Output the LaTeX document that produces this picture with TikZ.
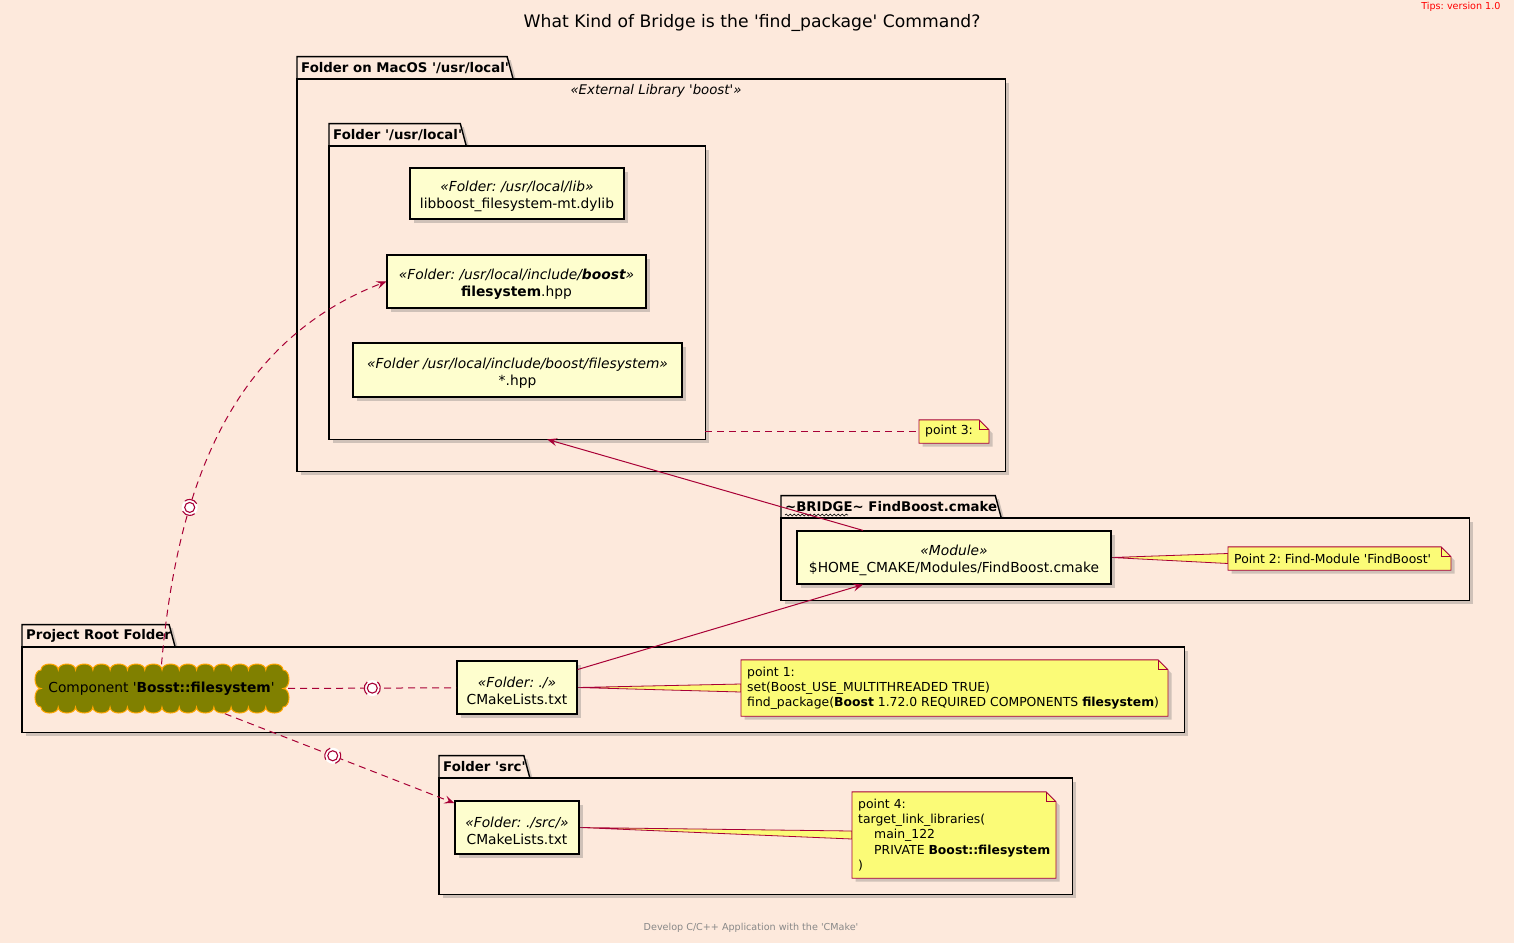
\documentclass[tikz,border=0pt]{standalone}
\usepackage{fontspec}
\setmainfont{DejaVu Sans}
\usetikzlibrary{arrows.meta,shadows,decorations.pathmorphing}
\definecolor{bgc}{HTML}{FDE9DC}
\definecolor{boxc}{HTML}{FEFECE}
\definecolor{notec}{HTML}{FBFB77}
\definecolor{redc}{HTML}{A80036}
\definecolor{olivec}{HTML}{808000}
\definecolor{orangec}{HTML}{FFA500}
\definecolor{footc}{HTML}{888888}
\pgfdeclarelayer{pkglayer}
\pgfdeclarelayer{notelayer}
\pgfsetlayers{pkglayer,notelayer,main}
\frenchspacing
\newcommand\q{\textquotesingle}
\newcommand\vs{\rule{0pt}{16.5pt}}
\newcommand\lolli[3]{%
  \node[circle, fill=white, inner sep=0pt, minimum size=16pt] (#1) at (#2) {};
  \draw[redc, line width=1.1pt] (#1.center) circle[radius=5pt];
  \draw[redc, line width=1.1pt] ([shift={(#3-50:8pt)}]#1.center) arc[start angle=#3-50, end angle=#3+50, radius=8pt];
  \draw[redc, line width=1.1pt] ([shift={(#3+130:8pt)}]#1.center) arc[start angle=#3+130, end angle=#3+230, radius=8pt];
}
\newcommand\notedraw[2]{%
  \path[notesh] (#1.south west) -- (#1.north west) -- ([xshift=#2pt-10pt]#1.north west) -- ([xshift=#2pt,yshift=-10pt]#1.north west) -- ([xshift=#2pt]#1.south west) -- cycle;
  \draw[redc, line width=0.9pt] ([xshift=#2pt-10pt]#1.north west) -- ([xshift=#2pt-10pt,yshift=-10pt]#1.north west) -- ([xshift=#2pt,yshift=-10pt]#1.north west);
}
\begin{document}
\begin{tikzpicture}[x=1pt,y=-1pt,
  font=\fontsize{13.8}{17}\selectfont,
  shd/.style={drop shadow={shadow xshift=3.5pt,shadow yshift=-3.5pt,opacity=0.3,fill=black!60}},
  pkgshape/.style={draw=black, line width=1.4pt, fill=bgc, shd},
  pkgtitle/.style={font=\fontsize{13.3}{16}\selectfont\bfseries, inner xsep=4pt, inner ysep=0pt, minimum height=22pt, anchor=south west},
  pkgbody/.style={inner sep=0pt, anchor=north west},
  box/.style={draw=black, line width=1.2pt, fill=boxc, shd, align=center, inner sep=0pt},
  notetext/.style={align=left, anchor=west, inner xsep=6pt, inner ysep=0pt, font=\fontsize{12.4}{15.2}\selectfont},
  notesh/.style={draw=redc, line width=0.9pt, fill=notec, shd},
  wedge/.style={draw=redc, line width=0.8pt, fill=notec},
  link/.style={draw=redc, line width=1pt},
  dep/.style={link, dash pattern=on 7pt off 5pt},
  arrowend/.style={-{Stealth[length=10pt,width=8pt,inset=4pt]}}
]
\useasboundingbox (0,0) rectangle (1514,943);
\begin{pgfonlayer}{pkglayer}
  \fill[bgc] (0,0) rectangle (1514,943);
\end{pgfonlayer}

% title, tips, footer
\node[font=\fontsize{17.2}{20}\selectfont] (title) at (752,23) {What Kind of Bridge is the \q find\_package\q{} Command?};
\node[anchor=east, text=red, font=\fontsize{9.6}{11}\selectfont] (tips) at (1504,7) {Tips: version 1.0};
\node[text=footc, font=\fontsize{9.6}{11}\selectfont] (foot) at (751,928) {Develop C/C++ Application with the \q CMake\q};

% packages
\node[pkgbody, minimum width=708pt, minimum height=392pt] (P1) at (297,79) {};
\node[pkgtitle] (P1t) at (P1.north west) {Folder on MacOS \q/usr/local\q};
\node[pkgbody, minimum width=376pt, minimum height=293pt] (P2) at (329,146) {};
\node[pkgtitle] (P2t) at (P2.north west) {Folder \q/usr/local\q};
\node[pkgbody, minimum width=688pt, minimum height=82pt] (BR) at (781,518) {};
\node[pkgtitle] (BRt) at (BR.north west) {\textasciitilde BRIDGE\textasciitilde{} FindBoost.cmake};
\node[pkgbody, minimum width=1162pt, minimum height=85pt] (PR) at (22,647) {};
\node[pkgtitle] (PRt) at (PR.north west) {Project Root Folder};
\node[pkgbody, minimum width=633pt, minimum height=116pt] (SRC) at (439,778) {};
\node[pkgtitle] (SRCt) at (SRC.north west) {Folder \q src\q};
\begin{pgfonlayer}{pkglayer}
  \foreach \p in {P1,P2,BR,PR,SRC}{
    \path[pkgshape] (\p.north west) -- (\p t.north west) -- ([xshift=-6pt]\p t.north east) -- (\p t.south east) -- cycle;
    \path[pkgshape] (\p.north west) rectangle (\p.south east);
  }
\end{pgfonlayer}
\draw[black, line width=0.6pt, decorate, decoration={snake, amplitude=0.9pt, segment length=4pt}] ([xshift=4pt,yshift=3pt]BRt.south west) -- ([xshift=67pt,yshift=3pt]BRt.south west);
\node[font=\fontsize{13.3}{16}\selectfont\itshape] (P1s) at (656,91) {«External Library \q boost\q»};

% boxes
\node[box, minimum width=214pt, minimum height=51pt] (lib) at (517,193.5) {\vs\textit{«Folder: /usr/local/lib»}\\libboost\_filesystem-mt.dylib};
\node[box, minimum width=259pt, minimum height=53pt] (fs) at (516.5,281.5) {\vs\textit{«Folder: /usr/local/include/\textbf{boost}»}\\\textbf{filesystem}.hpp};
\node[box, minimum width=329pt, minimum height=54pt] (hpp) at (517.5,370) {\vs\textit{«Folder /usr/local/include/boost/filesystem»}\\*.hpp};
\node[box, minimum width=314pt, minimum height=53pt] (module) at (954,557.5) {\vs\textit{«Module»}\\\$HOME\_CMAKE/Modules/FindBoost.cmake};
\node[box, minimum width=120pt, minimum height=53pt] (cml) at (517,687.5) {\vs\textit{«Folder: ./»}\\CMakeLists.txt};
\node[box, minimum width=124pt, minimum height=53pt] (srccml) at (517,827.5) {\vs\textit{«Folder: ./src/»}\\CMakeLists.txt};

% component (cloud)
\node[minimum width=253pt, minimum height=49pt, inner sep=0pt] (comp) at (161.5,689) {Component \q\textbf{Bosst::filesystem}\q};
\begin{pgfonlayer}{notelayer}
  \path[draw=orangec, line width=1pt, fill=olivec] (41,670)
    \foreach \i in {0,...,13} { .. controls ({41+\i*17.29},662) and ({41+(\i+1)*17.29},662) .. ({41+(\i+1)*17.29},670) }
    .. controls (291,670) and (291,688.5) .. (283,688.5)
    .. controls (291,688.5) and (291,707) .. (283,707)
    \foreach \i in {0,...,13} { .. controls ({283-\i*17.29},715) and ({283-(\i+1)*17.29},715) .. ({283-(\i+1)*17.29},707) }
    .. controls (33,707) and (33,688.5) .. (41,688.5)
    .. controls (33,688.5) and (33,670) .. (41,670) -- cycle;
\end{pgfonlayer}

% notes
\node[notetext, minimum height=23pt] (n3) at (919,431.5) {point 3:};
\node[notetext, minimum height=23pt] (n2) at (1228,558.5) {Point 2: Find-Module \q FindBoost\q};
\node[notetext, minimum height=56pt] (n1) at (741,688) {point 1:\\set(Boost\_USE\_MULTITHREADED TRUE)\\find\_package(\textbf{Boost} 1.72.0 REQUIRED COMPONENTS \textbf{filesystem})};
\node[notetext, minimum height=86pt] (n4) at (852,835) {point 4:\\target\_link\_libraries(\\\hspace*{16pt}main\_122\\\hspace*{16pt}PRIVATE \textbf{Boost::filesystem}\\)};
\begin{pgfonlayer}{notelayer}
  \path[wedge] (cml.east) -- ([yshift=4pt]n1.west) -- ([yshift=-4pt]n1.west) -- cycle;
  \path[wedge] (module.east) -- ([yshift=5pt]n2.west) -- ([yshift=-5pt]n2.west) -- cycle;
  \path[wedge] (srccml.east) -- ([yshift=4pt]n4.west) -- ([yshift=-4pt]n4.west) -- cycle;
  \notedraw{n1}{427}
  \notedraw{n2}{223}
  \notedraw{n3}{70}
  \notedraw{n4}{204}
\end{pgfonlayer}

% connectors
\draw[dep, arrowend] (comp.north) .. controls (176,500) and (224,344) .. (fs.west) coordinate[pos=0.33] (l1);
\draw[dep] (comp) -- (cml) coordinate[pos=0.5] (l2);
\draw[dep, arrowend] (comp) -- (srccml) coordinate[pos=0.47] (l3);
\draw[link, arrowend] (cml) -- (module);
\draw[link, arrowend] ([xshift=-91pt]module.north) -- ([xshift=30pt]P2.south);
\draw[dep] (P2.east |- n3.west) -- (n3.west);
\lolli{L1}{l1}{78}
\lolli{L2}{l2}{0}
\lolli{L3}{l3}{-21}
\end{tikzpicture}
\end{document}
